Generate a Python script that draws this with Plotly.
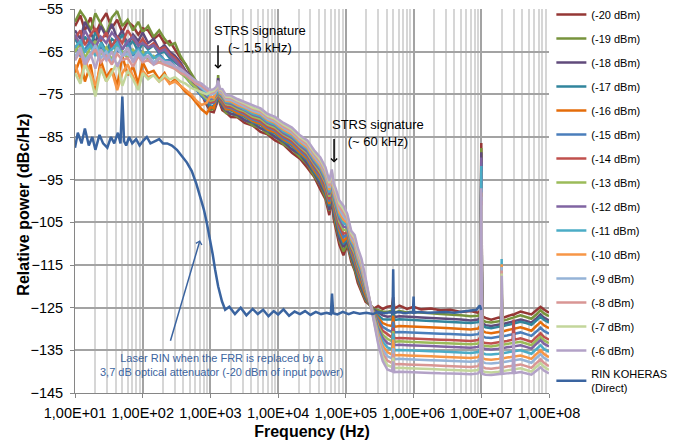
import plotly.graph_objects as go

# ---------------- data ----------------
FREQ = [10, 12, 14, 17, 20, 24, 29, 35, 42, 50, 60, 72, 86, 100, 120, 145, 175, 210, 250, 300, 360, 430, 520, 620, 740, 880, 1000,
        1120, 1230, 1300, 1380, 1500, 1700, 2000, 2500, 3200, 4200, 5500, 7000, 9000, 12000, 16000, 21000, 27000, 34000, 42000,
        50000, 57000, 62000, 66000, 71000, 80000, 92000,
        105000, 120000, 135000, 150000, 170000, 195000, 225000, 260000, 300000, 350000, 410000,
        480000, 500000, 520000, 620000, 800000, 1e6, 1.3e6, 1.8e6, 2.5e6, 3.5e6, 5e6, 7e6, 9e6, 9.7e6, 1e7, 1.03e7,
        1.15e7, 1.4e7, 1.8e7, 1.95e7, 2e7, 2.05e7, 2.4e7, 2.9e7, 3e7, 3.1e7, 3.8e7, 4.6e7, 5.5e7, 6.5e7, 7.5e7, 8.5e7, 1e8]

P20 = [-59, -56.5, -60, -57, -61, -58, -56, -59.5, -57.5, -60.5, -58, -59, -61, -59.5, -60, -62, -61, -63, -62.5, -64.5, -66.5, -68, -70.5, -72.5, -75, -77.5, -79,
       -79.2, -77.3, -75, -77.2, -78.7, -79.3, -80.3, -80.4, -81.7, -82.3, -83.8, -84.4, -85.8, -86.8, -88.7, -90.1, -92.2, -94.3, -97.3, -99.6, -103.3, -99.2, -104.2, -106.3, -110.2, -112.7,
       -110.3, -114.2, -116.3, -119.2, -121.3, -123.6, -124.3, -125.2, -124.6, -125.3, -124.8,
       -124.6, -122.5, -125.2, -124.5, -125.3, -124.8, -125.4, -125.2, -125.6, -125.5, -126, -125.8, -126.2, -125.6, -86.4, -127,
       -127.4, -127.8, -127.3, -127.5, -121, -127.4, -127, -126.6, -126.7, -126.5, -125.9, -126.3, -126.6, -125.6, -124.8, -125.5, -126.2]
P19 = [-58, -55.5, -57, -60, -56, -58.5, -61, -57, -55.5, -59, -57.5, -60, -58, -60.5, -59, -61.5, -60, -62, -63.5, -63, -66, -68, -70, -72, -74.5, -77, -78.6,
       -78.4, -77, -70.5, -76.9, -78, -79.4, -79.5, -80.3, -81, -82.3, -82.9, -84.2, -84.9, -86.7, -87.9, -89.7, -91.4, -94.1, -96.3, -99.1, -102.3, -98.6, -103.2, -105.5, -109.1, -111.8,
       -110, -113.5, -115.9, -118.4, -120.9, -123.1, -124.4, -125.3, -125.6, -125.9, -126,
       -125.7, -123.5, -126.2, -125.8, -126.1, -126, -126.2, -126.3, -126.5, -126.6, -126.8, -127, -126.9, -126.2, -87.6, -127.8,
       -128.3, -128.5, -128.2, -128.1, -121.5, -128.1, -127.8, -127.4, -127.4, -127.3, -126.8, -127.2, -127.6, -126.6, -125.6, -126.4, -127]
P18 = [-60, -62, -58, -60.5, -63, -59, -61.5, -58.5, -62, -60, -63.5, -61, -62.5, -60.5, -63, -62, -64.5, -63.5, -65, -66, -67.5, -69.5, -71, -73, -75, -77, -78.3,
       -78.1, -77.1, -71.2, -76.3, -78.1, -78.7, -79.6, -79.8, -81.1, -81.6, -83, -83.6, -85, -86.1, -87.9, -89, -91.3, -93.4, -96.2, -98.3, -102.1, -97.9, -103.1, -104.6, -108.8, -110.8,
       -109.4, -113, -115.3, -117.9, -120.4, -122.7, -124.3, -125.5, -126.2, -126.8, -127.1,
       -127, -124.6, -127.2, -127, -127.2, -127.2, -127.3, -127.4, -127.5, -127.6, -127.8, -128, -127.8, -127.2, -88.6, -128.6,
       -129.1, -129.3, -129, -128.9, -122, -128.9, -128.6, -128.3, -128.2, -128.2, -127.8, -128.1, -128.5, -127.5, -126.6, -127.4, -128]
P17 = [-62, -64, -61.5, -63.5, -60.5, -62.5, -65, -62, -63, -61, -64, -62.5, -65, -63, -64.5, -63.5, -65.5, -65, -66.5, -67.5, -68.5, -70.5, -72, -73.5, -75, -76.5, -77.9,
       -77.7, -76.6, -74.2, -76.4, -77.3, -78.6, -78.8, -79.6, -80.3, -81.5, -82.2, -83.5, -84.2, -85.9, -87.1, -88.9, -90.5, -93.2, -95.3, -98, -101.2, -97.7, -102.1, -104.2, -107.7, -110.1,
       -108.9, -112.5, -114.7, -117.3, -119.8, -122.3, -124.2, -125.8, -126.8, -127.7, -127.8,
       -127.8, -125.3, -127.9, -127.7, -127.9, -127.9, -128, -128.1, -128.2, -128.3, -128.5, -128.6, -128.4, -127.8, -91, -129.1,
       -129.6, -129.8, -129.5, -129.4, -122, -129.4, -129.1, -128.8, -128.7, -128.7, -128.3, -128.6, -129, -128, -127.1, -127.9, -128.5]
P16 = [-70, -66.5, -72, -68, -74.5, -67, -71, -69, -73, -66, -70.5, -68.5, -72.5, -67.5, -70, -69.5, -71.5, -70, -72.5, -71.5, -73, -74.5, -75.5, -77, -78.5, -79.5, -78,
       -78.2, -76, -74.1, -76.3, -77, -78.5, -78.5, -79.4, -80, -81.3, -81.9, -83.3, -83.9, -85.6, -86.7, -88.6, -90.1, -92.8, -94.8, -97.6, -100.7, -97.3, -101.5, -103.6, -106.9, -109.4,
       -108.4, -112, -114.1, -116.7, -119.2, -121.9, -124.1, -126, -127.4, -128.6, -129.1,
       -129.3, -126.9, -129.5, -129.3, -129.4, -129.5, -129.5, -129.6, -129.7, -129.8, -130, -130.1, -129.9, -129.2, -93, -130.4,
       -130.8, -131, -130.7, -130.6, -123, -130.6, -130.3, -130, -130, -130, -129.6, -130, -130.4, -129.3, -128.4, -129.2, -129.8]
P15 = [-63.5, -66, -64.5, -62.5, -65.5, -64, -66.5, -63, -65, -64.5, -62.5, -66, -64, -65.5, -65, -66.5, -65.5, -67, -67, -68.5, -69.5, -71, -72.5, -74, -75.5, -76.5, -77.2,
       -77, -76.1, -73.7, -75.9, -76.7, -78, -78.2, -79, -79.7, -80.9, -81.5, -82.8, -83.5, -85.2, -86.3, -88.1, -89.7, -92.3, -94.3, -96.9, -100.1, -96.8, -100.9, -102.9, -106.2, -108.5,
       -107.8, -111.5, -113.5, -116.1, -118.6, -121.5, -124, -126.3, -128, -129.5, -130.2,
       -130.7, -128.3, -130.8, -130.7, -130.8, -130.9, -130.9, -131, -131.1, -131.2, -131.3, -131.4, -131.2, -130.5, -94, -131.6,
       -132, -132.1, -131.8, -131.7, -123, -131.7, -131.5, -131.2, -131.2, -131.2, -130.8, -131.2, -131.6, -130.6, -129.7, -130.5, -131.1]
P14 = [-62, -60, -63.5, -61, -59.5, -62.5, -60.5, -64, -61.5, -63, -60, -62, -63.5, -62, -64, -63, -64.5, -64, -65.5, -66.5, -68, -70, -71.5, -73, -74.5, -76, -76.9,
       -76.7, -75.8, -73.5, -75.6, -76.4, -77.8, -77.9, -78.7, -79.4, -80.6, -81.2, -82.5, -83.2, -84.8, -85.9, -87.7, -89.2, -91.8, -93.8, -96.4, -99.6, -96.3, -100.4, -102.2, -105.5, -107.7,
       -107.3, -111, -112.9, -115.6, -118.1, -121.1, -123.9, -126.5, -128.6, -130.4, -131.2,
       -132, -129.7, -132.2, -132.1, -132.2, -132.3, -132.3, -132.4, -132.5, -132.6, -132.7, -132.8, -132.6, -131.9, -95, -133,
       -133.3, -133.4, -133.1, -133, -124, -133, -132.8, -132.5, -127.8, -132.5, -132.2, -132.6, -133, -131.9, -131, -131.9, -132.5]
P13 = [-65, -63, -66.5, -64, -62.5, -65.5, -64, -67, -63.5, -65, -66.5, -64.5, -66, -65, -67, -66, -67.5, -67, -68, -69, -70, -71, -72.5, -73.5, -75, -76, -76.5,
       -76.3, -75.4, -73.3, -75.4, -76, -77.3, -77.5, -78.4, -79, -80.2, -80.8, -82.1, -82.8, -84.4, -85.5, -87.3, -88.8, -91.3, -93.3, -95.8, -99, -95.8, -99.8, -101.6, -104.8, -106.8,
       -106.8, -110.5, -112.3, -115, -117.5, -120.8, -123.8, -126.8, -129.3, -131.3, -132.3,
       -132.9, -130.5, -133, -132.9, -133, -133.1, -133.1, -133.2, -133.3, -133.4, -133.5, -133.6, -133.4, -132.7, -96, -133.7,
       -134, -134.1, -133.8, -133.7, -124, -133.7, -133.5, -133.3, -133.3, -133.3, -133, -133.4, -133.8, -132.7, -131.8, -132.7, -133.3]
P12 = [-61, -63.5, -60, -62.5, -64, -61.5, -63, -60.5, -62, -64.5, -62.5, -61.5, -63.5, -63, -64, -63.5, -65, -64.5, -66, -67, -68.5, -70, -71.5, -72.5, -74, -75.5, -76.1,
       -75.9, -75.1, -72.6, -75.1, -75.7, -77, -77.2, -78, -78.7, -79.8, -80.4, -81.7, -82.4, -84.1, -85.2, -87, -88.4, -90.9, -92.8, -95.3, -98.5, -95.4, -99.2, -101, -104.1, -106,
       -106.2, -110, -111.6, -114.4, -116.9, -120.4, -123.6, -127, -129.9, -132.1, -133.3,
       -133.6, -131.3, -133.8, -133.7, -133.8, -133.9, -133.9, -134, -134.1, -134.2, -134.3, -134.4, -134.2, -133.5, -89.8, -134.4,
       -134.7, -134.8, -134.6, -134.5, -125, -134.5, -134.3, -134.1, -134.1, -134.1, -133.8, -134.2, -134.6, -133.5, -132.6, -133.5, -134.1]
P11 = [-64, -62.5, -65, -63.5, -66, -63, -65.5, -64.5, -63, -66, -64, -65.5, -64.5, -66, -65, -66.5, -66, -67, -67.5, -68.5, -69.5, -70.5, -71.5, -72.5, -73.5, -75, -75.8,
       -75.6, -74.8, -72.9, -74.9, -75.4, -76.8, -76.9, -77.7, -78.4, -79.5, -80.1, -81.4, -82.1, -83.7, -84.8, -86.6, -87.9, -90.4, -92.3, -94.8, -98, -94.9, -98.7, -100.3, -103.4, -105.2,
       -105.7, -109.5, -111, -113.9, -116.4, -120, -123.5, -127.3, -130.5, -133, -134.3,
       -134.8, -131, -135, -134.9, -135, -135.1, -135.1, -135.2, -135.3, -135.4, -135.5, -135.6, -135.4, -134.6, -91.8, -135.6,
       -135.9, -136, -135.8, -135.7, -113.6, -135.7, -135.5, -135.3, -135.3, -135.3, -135, -135.4, -135.8, -134.7, -133.8, -134.7, -135.4]
P10 = [-68, -71.5, -67, -70, -73, -68.5, -72, -69.5, -74, -70, -68, -71, -73.5, -69.5, -71, -70.5, -72, -71, -72.5, -72, -73, -74, -75, -76.5, -77.5, -77, -75.4,
       -75.8, -74.1, -72.9, -74.7, -75.1, -76.5, -76.6, -77.5, -78.1, -79.1, -79.7, -81, -81.7, -83.3, -84.4, -86.2, -87.5, -90, -91.8, -94.2, -97.4, -94.5, -98.1, -99.7, -102.7, -104.4,
       -105.1, -109, -110.4, -113.3, -115.8, -119.6, -123.4, -127.5, -131.1, -133.9, -135.4,
       -136, -132.5, -136.2, -136.1, -136.2, -136.3, -136.3, -136.4, -136.5, -136.6, -136.7, -136.8, -136.6, -135.8, -98, -136.8,
       -137.1, -137.2, -137, -136.9, -114.8, -136.9, -136.7, -136.5, -136.5, -136.5, -136.2, -136.6, -137, -135.9, -135, -135.9, -136.6]
P9 = [-66, -64.5, -67, -65.5, -63.5, -66.5, -65, -67.5, -64, -66, -65.5, -67, -65, -66.5, -66, -67.5, -66.5, -67.5, -68, -68.5, -69.5, -70.5, -71.5, -72.5, -73.5, -74.5, -75.1,
      -74.9, -74.2, -72.4, -74.4, -74.8, -76.2, -76.3, -77.1, -77.8, -78.8, -79.4, -80.7, -81.4, -82.9, -84, -85.8, -87.1, -89.5, -91.3, -93.7, -96.9, -94, -97.5, -99, -101.9, -103.6,
      -104.6, -108.5, -109.8, -112.7, -115.2, -119.2, -123.3, -127.8, -131.7, -134.8, -136.4,
      -136.9, -134.5, -137.1, -137, -137.1, -137.2, -137.2, -137.3, -137.4, -137.5, -137.6, -137.7, -137.5, -136.7, -99, -137.7,
      -138, -138.1, -137.9, -137.8, -115.5, -137.8, -137.6, -137.4, -137.4, -137.4, -137.1, -137.5, -137.9, -136.8, -135.9, -136.8, -137.5]
P8 = [-67, -65, -68.5, -66, -64.5, -67.5, -66, -68, -65.5, -67, -66.5, -68.5, -66, -67.5, -67, -68, -67.5, -68, -68.5, -69, -70, -70.5, -71.5, -72.5, -73, -74, -74.7,
      -74.5, -73.8, -72.2, -74.1, -74.4, -75.8, -75.9, -76.7, -77.4, -78.4, -79, -80.3, -81, -82.5, -83.6, -85.4, -86.7, -89, -90.8, -93.2, -96.4, -93.5, -96.9, -98.4, -101.2, -102.7,
      -104.1, -108, -109.2, -112.1, -114.6, -118.8, -123.2, -128, -132.3, -135.7, -137.4,
      -138, -135.8, -138.3, -138.2, -138.3, -138.4, -138.4, -138.5, -138.6, -138.7, -138.8, -138.9, -138.7, -137.9, -100, -138.9,
      -139.2, -139.3, -139.1, -139, -116.3, -139, -138.8, -138.6, -138.6, -138.6, -138.3, -138.7, -139.1, -138, -137.1, -138, -138.7]
P7 = [-70, -72.5, -68, -71, -75.5, -69, -72, -70, -67.5, -73, -69.5, -71.5, -74, -70, -71.5, -70.5, -72, -70.5, -71.5, -71, -72, -72.5, -73.5, -74, -74.5, -75, -74.4,
      -74.2, -73.5, -72, -73.9, -74.1, -75.5, -75.6, -76.4, -77.1, -78.1, -78.7, -80, -80.7, -82.1, -83.2, -85, -86.2, -88.6, -90.3, -92.6, -95.8, -93.1, -96.4, -97.7, -100.5, -101.9,
      -103.5, -107.5, -108.6, -111.6, -114.1, -118.4, -123.1, -128.3, -132.9, -136.6, -138.5,
      -138.9, -136.7, -139.2, -139.1, -139.2, -139.3, -139.3, -139.4, -139.5, -139.6, -139.7, -139.8, -139.6, -138.8, -101, -139.8,
      -140.1, -140.2, -140, -139.9, -117, -139.9, -139.7, -139.5, -139.5, -139.5, -139.2, -139.6, -140, -138.9, -138, -138.9, -139.6]
P6 = [-67, -64, -68, -65.5, -69, -64.5, -67, -65, -68.5, -66, -64, -67.5, -65.5, -67, -66, -68, -66.5, -67.5, -67.5, -68.5, -69, -70, -71, -72, -72.5, -73.5, -74,
      -73.8, -73.2, -71.8, -73.7, -73.8, -75.2, -75.3, -76.1, -76.8, -77.7, -78.3, -79.6, -80.3, -81.7, -82.8, -84.6, -85.8, -88.1, -89.8, -92.1, -95.3, -92.6, -95.8, -97.1, -99.8, -101.1,
      -103, -107, -108, -111, -113.5, -118, -123, -128.5, -133.5, -137.5, -139.5,
      -139.9, -137.6, -140.1, -140, -140.1, -140.2, -140.2, -140.3, -140.4, -140.4, -140.5, -140.6, -140.4, -139.7, -97, -140.5,
      -140.7, -140.8, -140.6, -140.5, -117.5, -140.5, -140.4, -140.3, -131, -140.3, -140.1, -140.4, -140.7, -139.8, -139, -139.8, -140.4]

RIN_FREQ = [10, 11, 12.5, 14, 16, 18, 20, 23, 26, 30, 34, 38, 43, 47, 50, 53, 57, 63, 70, 80,
            90, 100, 115, 130, 150, 175, 200, 230, 270, 320, 380, 450, 530, 620, 720, 800, 880, 980, 1080, 1170,
            1300, 1480, 1650, 1900, 2300, 2800, 3400, 4200, 5000, 6000, 7200, 8600, 10000, 12000, 14500, 17500, 21000, 25000, 30000, 36000,
            43000, 52000, 60000, 62500, 65000, 75000, 90000, 110000, 130000, 160000, 200000, 250000, 300000, 370000, 450000, 490000, 500000, 510000, 600000, 750000,
            900000, 980000, 1e6, 1.02e6, 1.2e6, 1.6e6, 2.2e6, 3e6, 4e6, 5.5e6, 7e6, 8.5e6, 9.5e6, 1e7]
RIN = [-87.5, -84, -86.5, -83, -87, -85, -88, -84.5, -86.5, -87.5, -85, -86.5, -84, -86.5, -75.5, -86, -87, -85, -86.5, -85.5,
       -87, -86, -85, -86.5, -86, -85.5, -86.5, -86.5, -87, -88, -89.5, -91, -93, -96, -99.5, -102, -105, -108.5, -112.5, -116,
       -120, -123.5, -125.5, -124.8, -126.5, -125, -126.8, -125.3, -126.5, -125.5, -127, -125.8, -126.6, -125.4, -126.9, -125.9, -126.5, -125.8, -126.7, -126,
       -126.5, -126.2, -126.5, -121.7, -126.3, -126.6, -126, -126.5, -126.1, -126.4, -126.2, -126.5, -126, -126.3, -126.1, -126.3, -116, -126.2, -126, -126.3,
       -126.1, -126.2, -122.4, -126.2, -126, -126.2, -126.1, -126, -126.2, -125.9, -125.8, -125.5, -124.5, -125.5]

LABELS = ["(-20 dBm)", "(-19 dBm)", "(-18 dBm)", "(-17 dBm)", "(-16 dBm)", "(-15 dBm)", "(-14 dBm)", "(-13 dBm)",
          "(-12 dBm)", "(-11 dBm)", "(-10 dBm)", "(-9 dBm)", "(-8 dBm)", "(-7 dBm)", "(-6 dBm)"]
COLORS = ["#953735", "#77933C", "#604A7B", "#31859C", "#E46C0A", "#4A7EBB", "#C0504D", "#9BBB59",
          "#8064A2", "#4BACC6", "#F79646", "#95B3D7", "#D99694", "#C3D69B", "#B3A2C7"]
SERIES = [P20, P19, P18, P17, P16, P15, P14, P13, P12, P11, P10, P9, P8, P7, P6]
RIN_NAME = "RIN KOHERAS<br>(Direct)"
RIN_COLOR = "#3A64A0"

XTICKS = [1e1, 1e2, 1e3, 1e4, 1e5, 1e6, 1e7, 1e8]
XTICKTEXT = ["1,00E+01", "1,00E+02", "1,00E+03", "1,00E+04", "1,00E+05", "1,00E+06", "1,00E+07", "1,00E+08"]

for lab, s in zip(LABELS, SERIES):
    assert len(s) == len(FREQ), (lab, len(s), len(FREQ))
assert len(RIN) == len(RIN_FREQ), (len(RIN), len(RIN_FREQ))

# ---------------- figure ----------------
FONT = "Liberation Sans, Arial, sans-serif"
fig = go.Figure()
for lab, col, ys in zip(LABELS, COLORS, SERIES):
    fig.add_trace(go.Scatter(x=FREQ, y=ys, mode="lines", name=lab, legendgroup=lab,
                             line=dict(color=col, width=2.5)))
fig.add_trace(go.Scatter(x=RIN_FREQ, y=RIN, mode="lines", name=RIN_NAME, legendgroup="rin",
                         line=dict(color=RIN_COLOR, width=2.5)))

fig.update_layout(
    width=686, height=444,
    margin=dict(l=75, r=137, t=9, b=51, autoexpand=False),
    paper_bgcolor="white", plot_bgcolor="white",
    font=dict(family=FONT, color="#000000", size=14),
    showlegend=True,
    legend=dict(x=1.005, y=1.0234, xanchor="left", yanchor="top", font=dict(size=11, family=FONT),
                tracegroupgap=5, bgcolor="rgba(0,0,0,0)", itemwidth=30),
    xaxis=dict(type="log", range=[1, 8], tickmode="array", tickvals=XTICKS, ticktext=XTICKTEXT,
               tickfont=dict(size=14.5), showgrid=True, gridcolor="#a3a3a3", gridwidth=1.5,
               ticks="outside", ticklen=4, tickcolor="#868686", showline=True, linecolor="#868686", linewidth=1,
               minor=dict(dtick="D1", showgrid=True, gridcolor="#d6d6d6", gridwidth=1.5, ticks=""),
               zeroline=False, ticklabeloverflow="allow", automargin=False, ticklabelstandoff=3,
               title=dict(text="<b>Frequency (Hz)</b>", font=dict(size=16), standoff=5)),
    yaxis=dict(range=[-145, -55], tick0=-55, dtick=10, tickfont=dict(size=14.5),
               showgrid=True, gridcolor="#a3a3a3", gridwidth=1.5,
               ticks="outside", ticklen=4, tickcolor="#868686", showline=True, linecolor="#868686", linewidth=1,
               zeroline=False, ticklabelstandoff=4, ticklabeloverflow="allow", automargin=False),
)
try:
    fig.update_layout(legend=dict(maxheight=440))
except ValueError:
    fig.update_layout(legend=dict(tracegroupgap=4))

# y-axis title placed as rotated text
fig.add_annotation(x=-0.108, y=0.49, xref="paper", yref="paper", text="<b>Relative power (dBc/Hz)</b>",
                   textangle=-90, showarrow=False, xanchor="center", yanchor="middle",
                   font=dict(size=16, color="#000"))

ANN_BLUE = "#3B64A0"
fig.add_annotation(x=3.733, y=-62, xref="x", yref="y", text="STRS signature<br>(~ 1,5 kHz)",
                   showarrow=False, font=dict(size=13, color="#000"))
fig.add_annotation(x=3.112, y=-69, xref="x", yref="y", ax=0, ay=-25, text="", showarrow=True,
                   arrowhead=4, arrowsize=0.8, arrowwidth=1.5, arrowcolor="#000")
fig.add_annotation(x=5.476, y=-84, xref="x", yref="y", text="STRS signature<br>(~ 60 kHz)",
                   showarrow=False, font=dict(size=13, color="#000"))
fig.add_annotation(x=4.826, y=-91, xref="x", yref="y", ax=0, ay=-25, text="", showarrow=True,
                   arrowhead=4, arrowsize=0.8, arrowwidth=1.5, arrowcolor="#000")
fig.add_annotation(x=3.157, y=-138.5, xref="x", yref="y",
                   text="Laser RIN when the FRR is replaced by a<br>3,7 dB optical attenuator (-20 dBm of input power)",
                   showarrow=False, font=dict(size=11, color=ANN_BLUE))
fig.add_annotation(x=2.846, y=-109.2, xref="x", yref="y", ax=-30, ay=102, text="", showarrow=True,
                   arrowhead=4, arrowsize=0.8, arrowwidth=1.5, arrowcolor=ANN_BLUE)

fig.write_html("out.html")
